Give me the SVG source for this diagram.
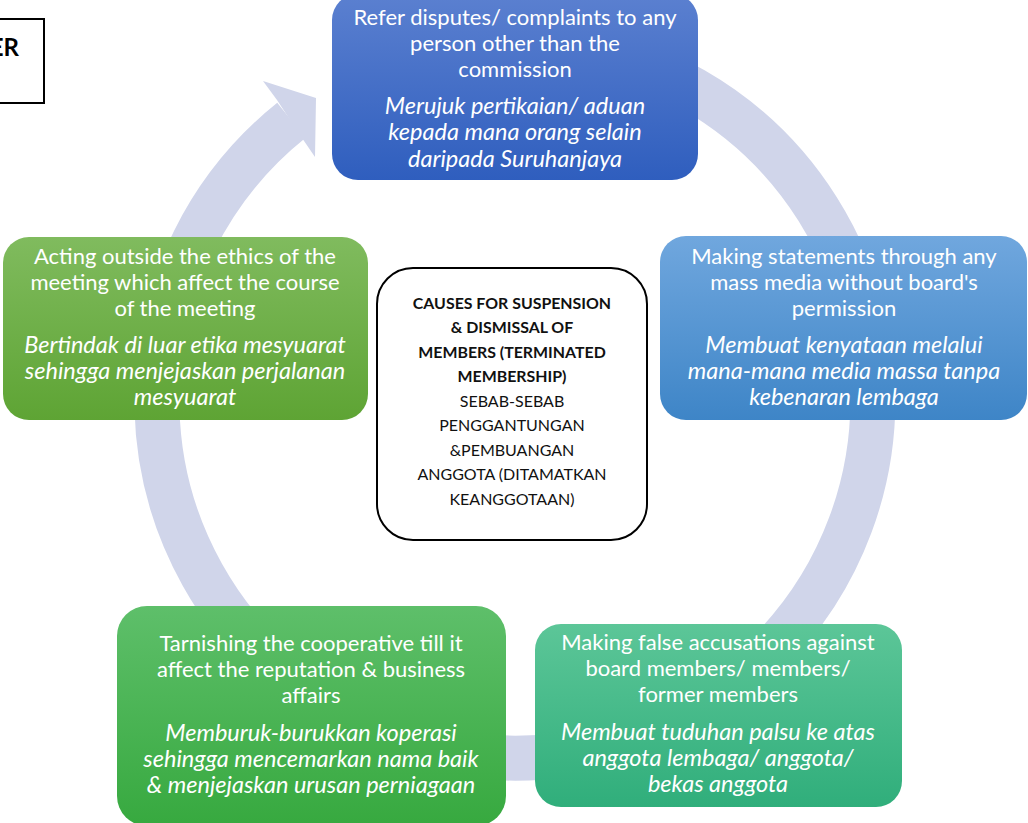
<svg xmlns="http://www.w3.org/2000/svg" width="1028" height="823" viewBox="0 0 1028 823">
<style>
.t{font-family:Lato,"Liberation Sans",sans-serif;font-size:22px;fill:#fff;text-anchor:middle}
.i{font-style:italic;font-size:23.5px}
.c{font-family:Lato,"Liberation Sans",sans-serif;font-size:16px;fill:#111;text-anchor:middle}
.b{font-weight:bold;font-size:15.9px}
.ring{fill:none;stroke:#D0D5EA;stroke-width:45}
</style>
<defs>
<linearGradient id="gTop" x1="0" y1="0" x2="0" y2="1"><stop offset="0" stop-color="#5B80D0"/><stop offset="1" stop-color="#2F5EBE"/></linearGradient>
<linearGradient id="gRight" x1="0" y1="0" x2="0" y2="1"><stop offset="0" stop-color="#70A7DE"/><stop offset="1" stop-color="#3E85C7"/></linearGradient>
<linearGradient id="gLeft" x1="0" y1="0" x2="0" y2="1"><stop offset="0" stop-color="#80BB5E"/><stop offset="1" stop-color="#5EA434"/></linearGradient>
<linearGradient id="gBL" x1="0" y1="0" x2="0" y2="1"><stop offset="0" stop-color="#5EBF6A"/><stop offset="1" stop-color="#37A93F"/></linearGradient>
<linearGradient id="gBR" x1="0" y1="0" x2="0" y2="1"><stop offset="0" stop-color="#5CC698"/><stop offset="1" stop-color="#30AE7B"/></linearGradient>
</defs>
<rect width="1028" height="823" fill="#fff"/>

<g id="corner-box">
<rect x="-10" y="19" width="54" height="84" fill="#fff" stroke="#000" stroke-width="2"/>
<text x="19" y="56" text-anchor="end" style="font-family:Lato,'Liberation Sans',sans-serif;font-size:24px;font-weight:bold;fill:#000">ER</text>
</g>

<g id="connectors">
<path class="ring" d="M546.2,43.4 A358,358 0 1 1 291.3,120.4"/>
<polygon points="277,100 263,81 316,98 315,157 302,138" fill="#D0D5EA"/>
</g>

<g id="node-top">
<rect x="332" y="-6" width="366" height="186" rx="26" fill="url(#gTop)"/>
<text class="t" x="515" y="25">Refer disputes/ complaints to any</text>
<text class="t" x="515" y="51">person other than the</text>
<text class="t" x="515" y="77">commission</text>
<text class="t i" x="515" y="114">Merujuk pertikaian/ aduan</text>
<text class="t i" x="515" y="140">kepada mana orang selain</text>
<text class="t i" x="515" y="167">daripada Suruhanjaya</text>
</g>

<g id="node-right">
<rect x="660" y="236" width="367" height="184" rx="26" fill="url(#gRight)"/>
<text class="t" x="844" y="264">Making statements through any</text>
<text class="t" x="844" y="290">mass media without board's</text>
<text class="t" x="844" y="316">permission</text>
<text class="t i" x="844" y="353">Membuat kenyataan melalui</text>
<text class="t i" x="844" y="379">mana-mana media massa tanpa</text>
<text class="t i" x="844" y="405">kebenaran lembaga</text>
</g>

<g id="node-left">
<rect x="3" y="237" width="365" height="183" rx="26" fill="url(#gLeft)"/>
<text class="t" x="185" y="264">Acting outside the ethics of the</text>
<text class="t" x="185" y="290">meeting which affect the course</text>
<text class="t" x="185" y="316">of the meeting</text>
<text class="t i" x="185" y="353">Bertindak di luar etika mesyuarat</text>
<text class="t i" x="185" y="379">sehingga menjejaskan perjalanan</text>
<text class="t i" x="185" y="405">mesyuarat</text>
</g>

<g id="node-bottom-left">
<rect x="117" y="606" width="389" height="220" rx="30" fill="url(#gBL)"/>
<text class="t" x="311" y="651">Tarnishing the cooperative till it</text>
<text class="t" x="311" y="677">affect the reputation &amp; business</text>
<text class="t" x="311" y="703">affairs</text>
<text class="t i" x="311" y="741">Memburuk-burukkan koperasi</text>
<text class="t i" x="311" y="767">sehingga mencemarkan nama baik</text>
<text class="t i" x="311" y="793">&amp; menjejaskan urusan perniagaan</text>
</g>

<g id="node-bottom-right">
<rect x="535" y="624" width="367" height="183" rx="26" fill="url(#gBR)"/>
<text class="t" x="718" y="650">Making false accusations against</text>
<text class="t" x="718" y="676">board members/ members/</text>
<text class="t" x="718" y="702">former members</text>
<text class="t i" x="718" y="740">Membuat tuduhan palsu ke atas</text>
<text class="t i" x="718" y="766">anggota lembaga/ anggota/</text>
<text class="t i" x="718" y="792">bekas anggota</text>
</g>

<g id="node-center">
<rect x="377" y="268" width="270" height="272" rx="36" fill="#fff" stroke="#000" stroke-width="2"/>
<text class="c b" x="512" y="309">CAUSES FOR SUSPENSION</text>
<text class="c b" x="512" y="333">&amp; DISMISSAL OF</text>
<text class="c b" x="512" y="358">MEMBERS (TERMINATED</text>
<text class="c b" x="512" y="382">MEMBERSHIP)</text>
<text class="c" x="512" y="407">SEBAB-SEBAB</text>
<text class="c" x="512" y="431">PENGGANTUNGAN</text>
<text class="c" x="512" y="456">&amp;PEMBUANGAN</text>
<text class="c" x="512" y="480">ANGGOTA (DITAMATKAN</text>
<text class="c" x="512" y="505">KEANGGOTAAN)</text>
</g>
</svg>
